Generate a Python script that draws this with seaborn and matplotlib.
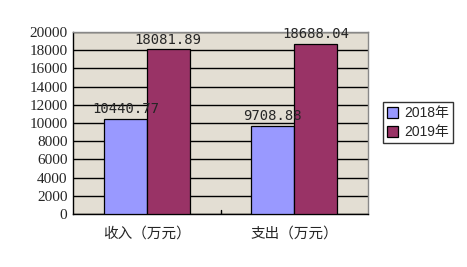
import matplotlib
matplotlib.use("Agg")
import matplotlib.pyplot as plt
import seaborn as sns
import pandas as pd

categories = ["收入（万元）", "支出（万元）"]
years = ["2018年", "2019年"]
values_2018 = [10440.77, 9708.88]
values_2019 = [18081.89, 18688.04]
yticks = list(range(0, 20001, 2000))

df = pd.DataFrame({
    "cat": categories * 2,
    "year": [years[0]] * 2 + [years[1]] * 2,
    "val": values_2018 + values_2019,
})

sns.set_style("white")
plt.rcParams['font.family'] = ['Liberation Serif', 'Noto Sans CJK SC', 'DejaVu Sans']

fig = plt.figure(figsize=(4.67, 2.67), dpi=100)
ax = fig.add_axes([73/467, 53/267, 295/467, 182/267])
ax.set_facecolor("#E3DED3")

sns.barplot(data=df, x="cat", y="val", hue="year", order=categories, hue_order=years,
            palette=["#9999FF", "#993366"], saturation=1, width=0.58,
            edgecolor="black", linewidth=0.9, ax=ax, zorder=3, legend=True)

ax.set_ylim(0, 20000)
ax.set_yticks(yticks)
ax.set_yticklabels([str(t) for t in yticks], fontsize=11)
ax.yaxis.grid(True, color="black", linewidth=1.0, zorder=1)
ax.set_axisbelow(True)
ax.set_xlabel("")
ax.set_ylabel("")
ax.set_xlim(-0.5, 1.5)
ax.tick_params(axis="x", length=0, pad=9)
ax.tick_params(axis="y", length=0, pad=4)
for lab in ax.get_xticklabels():
    lab.set_family(['Noto Sans CJK SC', 'DejaVu Sans'])
    lab.set_fontsize(10.5)
ax.axvline(0.5, ymin=0, ymax=0.02, color="black", linewidth=1)

for s in ["top", "right"]:
    ax.spines[s].set_color("#888888")
for s in ["left", "bottom"]:
    ax.spines[s].set_color("black")
for s in ax.spines.values():
    s.set_linewidth(1)

for cont in ax.containers:
    ax.bar_label(cont, labels=[f"{v:.2f}" for v in cont.datavalues], padding=2,
                 fontsize=10, family=['DejaVu Sans Mono'])

leg = ax.legend(loc="upper left", bbox_to_anchor=(383/467, (267-102)/267),
                bbox_transform=fig.transFigure, frameon=True, fancybox=False,
                borderaxespad=0, edgecolor="black", handlelength=0.8, handleheight=0.8,
                handletextpad=0.4, borderpad=0.3, labelspacing=0.35,
                prop={'family': ['Liberation Sans', 'Noto Sans CJK SC'], 'size': 10})
leg.get_frame().set_linewidth(1)

fig.savefig("out.png", dpi=100, facecolor="white")
